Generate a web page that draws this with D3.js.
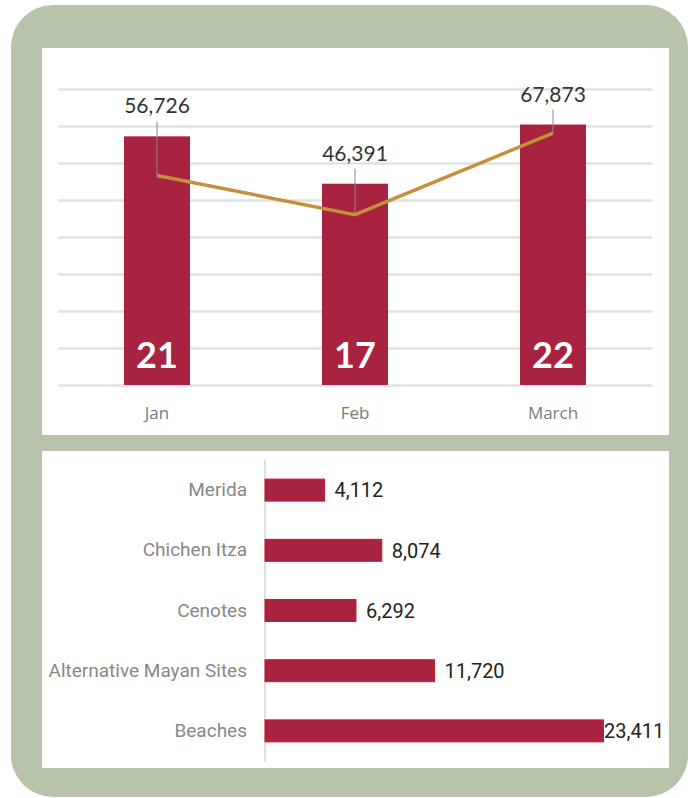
<!DOCTYPE html>
<html>
<head>
<meta charset="utf-8">
<style>
    body { margin: 0; background: #fff; }
    svg { display: block; }
</style>
</head>
<body>
<script src="https://d3js.org/d3.v7.min.js"></script>
<script>
    // top chart: monthly counts (bars) and visitors (line)
    var months = ["Jan", "Feb", "March"];
    var counts = [21, 17, 22];
    var visitors = [56726, 46391, 67873];

    // bottom chart: visitors by destination
    var places = ["Merida", "Chichen Itza", "Cenotes", "Alternative Mayan Sites", "Beaches"];
    var placeVisitors = [4112, 8074, 6292, 11720, 23411];

    const W = 694, H = 798;
    const barColor = "#a8233f";
    const fmt = d3.format(",");

    const svg = d3.select("body").append("svg")
        .attr("width", W)
        .attr("height", H);

    // green frame + white panels
    svg.append("rect").attr("x", 11).attr("y", 5).attr("width", 677).attr("height", 792)
        .attr("rx", 42).attr("fill", "#b7c4aa");
    svg.append("rect").attr("x", 42).attr("y", 48).attr("width", 627).attr("height", 387).attr("fill", "#fff");
    svg.append("rect").attr("x", 42).attr("y", 451).attr("width", 627).attr("height", 317).attr("fill", "#fff");

    // ---------- top chart ----------
    var x = d3.scaleBand().domain(months).range([58, 652])
        .paddingInner(2 / 3).paddingOuter(1 / 3);
    var yCount = d3.scaleLinear().domain([0, 25]).range([385, 89]);
    var yVis = d3.scaleLinear().domain([0, 80000]).range([391, 87]);

    // gridlines
    svg.append("g")
        .attr("transform", "translate(58,0)")
        .call(d3.axisLeft(yCount).tickValues(d3.range(0, 25.01, 3.125)).tickSize(-594).tickFormat(""))
        .call(g => g.select(".domain").remove())
        .call(g => g.selectAll("line").attr("stroke", "#e2e2e2").attr("stroke-width", 2.5));

    svg.append("g").selectAll("rect")
        .data(counts)
        .join("rect")
        .attr("x", (d, i) => x(months[i]))
        .attr("y", d => yCount(d))
        .attr("width", x.bandwidth())
        .attr("height", d => yCount(0) - yCount(d))
        .attr("fill", barColor);

    svg.append("g").selectAll("text")
        .data(counts)
        .join("text")
        .attr("x", (d, i) => x(months[i]) + x.bandwidth() / 2)
        .attr("y", 368)
        .attr("text-anchor", "middle")
        .attr("font-family", "Lato")
        .attr("font-weight", "bold")
        .attr("font-size", 36)
        .attr("fill", "#fff")
        .text(d => d);

    // month labels
    svg.append("g")
        .attr("transform", "translate(0,419)")
        .call(d3.axisBottom(x).tickSize(0).tickPadding(0))
        .call(g => g.select(".domain").remove())
        .call(g => g.selectAll("text")
            .attr("dy", 0)
            .attr("font-family", "Open Sans")
            .attr("font-size", 17)
            .attr("fill", "#7a7a7a"));

    var cx = i => x(months[i]) + x.bandwidth() / 2;
    var labelY = i => yCount(counts[i]) - 23;

    // leader lines
    svg.append("g").selectAll("line")
        .data(visitors)
        .join("line")
        .attr("x1", (d, i) => cx(i))
        .attr("x2", (d, i) => cx(i))
        .attr("y1", (d, i) => labelY(i) + 8)
        .attr("y2", d => yVis(d))
        .attr("stroke", "#8a8a8a")
        .attr("stroke-width", 1);

    var line = d3.line()
        .x((d, i) => cx(i))
        .y(d => yVis(d));
    svg.append("path")
        .datum(visitors)
        .attr("d", line)
        .attr("fill", "none")
        .attr("stroke", "#c68f3a")
        .attr("stroke-width", 3.5);

    svg.append("g").selectAll("text")
        .data(visitors)
        .join("text")
        .attr("x", (d, i) => cx(i))
        .attr("y", (d, i) => labelY(i))
        .attr("text-anchor", "middle")
        .attr("font-family", "Lato")
        .attr("font-size", 21)
        .attr("fill", "#333")
        .text(d => fmt(d));

    // ---------- bottom chart ----------
    var xb = d3.scaleLinear().domain([0, 25000]).range([265, 626.5]);
    var yb = d3.scaleBand().domain(places).range([460, 761])
        .paddingInner(0.635).paddingOuter(0.318);

    svg.append("line")
        .attr("x1", 265).attr("x2", 265)
        .attr("y1", 460).attr("y2", 762)
        .attr("stroke", "#e0e0e0").attr("stroke-width", 2);

    svg.append("g").selectAll("rect")
        .data(placeVisitors)
        .join("rect")
        .attr("x", xb(0))
        .attr("y", (d, i) => yb(places[i]))
        .attr("width", d => xb(d) - xb(0))
        .attr("height", yb.bandwidth())
        .attr("fill", barColor)
        .attr("stroke", "#c8172f")
        .attr("stroke-width", 1);

    svg.append("g")
        .attr("transform", "translate(247,0)")
        .call(d3.axisLeft(yb).tickSize(0).tickPadding(0))
        .call(g => g.select(".domain").remove())
        .call(g => g.selectAll("text")
            .attr("font-family", "Roboto")
            .attr("font-size", 19)
            .attr("fill", "#888"));

    svg.append("g").selectAll("text")
        .data(placeVisitors)
        .join("text")
        .attr("x", d => Math.min(xb(d) + 10, 604))
        .attr("y", (d, i) => yb(places[i]) + yb.bandwidth() / 2)
        .attr("dy", "0.36em")
        .attr("font-family", "Roboto")
        .attr("font-size", 20)
        .attr("fill", "#222")
        .text(d => fmt(d));
</script>
</body>
</html>
